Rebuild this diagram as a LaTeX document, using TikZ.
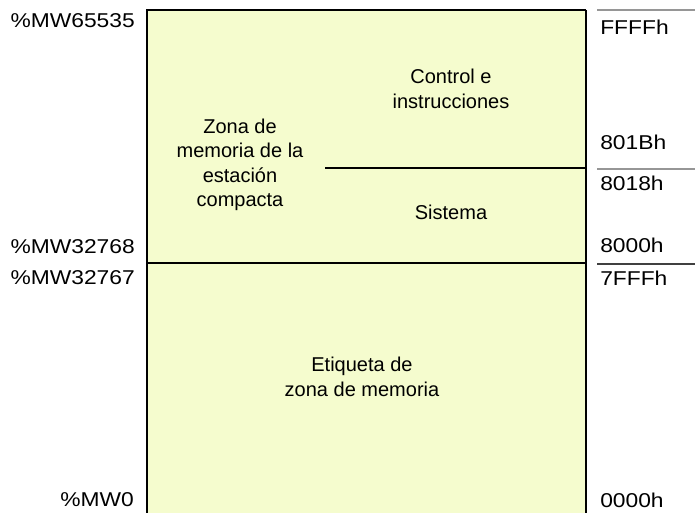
\documentclass[tikz,border=0pt]{standalone}
\usepackage{fontspec}
\setmainfont{Liberation Sans}
\newfontfamily\addrfont{Liberation Sans}[FakeStretch=1.14]
\usepackage{xcolor}
\usepackage{tikz}
\definecolor{zonafill}{RGB}{245,252,206}
\definecolor{regla}{RGB}{150,150,150}
\tikzset{
    etiq/.style={inner sep=0pt,font=\fontsize{15}{18.4}\selectfont},
    addr/.style={inner sep=0pt,font=\addrfont\fontsize{15}{18.4}\selectfont},
    hexlabel/.style={addr,anchor=west},
    mwlabel/.style={addr,anchor=east},
    zonatext/.style={etiq,align=center},
}

\begin{document}
\begin{tikzpicture}[x=0.75pt,y=-0.75pt]
        \useasboundingbox (0,0) rectangle (695,513);
        \clip (0,0) rectangle (695,513);
        \fill[zonafill] (147,10) rectangle (586,530);
        \draw[line width=2.2pt] (147,530)--(147,10)--(586,10);
        \draw[line width=1.7pt] (586,10)--(586,530);
        \draw[line width=2.2pt] (147,263)--(586,263);
        \draw[line width=1.6pt] (325,168)--(586,168);
        \draw[line width=0.9pt,draw=regla] (597,10)--(695,10);
        \draw[line width=0.9pt,draw=regla] (597,169)--(695,169);
        \draw[line width=0.9pt,draw=black!75] (597,264)--(695,264);
        % direcciones %MW
        \node[mwlabel] (mwtop) at (135,21){\%MW65535};
        \node[mwlabel] (mwsup) at (135,247){\%MW32768};
        \node[mwlabel] (mwinf) at (135,278){\%MW32767};
        \node[mwlabel] (mwcero) at (134,500){\%MW0};
        % direcciones hex
        \node[hexlabel] (hexfin) at (600,27){FFFFh};
        \node[hexlabel] (hexctl) at (600,142){801Bh};
        \node[hexlabel] (hexsis) at (600,183){8018h};
        \node[hexlabel] (hexini) at (600,245){8000h};
        \node[hexlabel] (hexsup) at (600,278){7FFFh};
        \node[hexlabel] (hexcero) at (600,500){0000h};
        % zonas
        \node[zonatext] (compacta) at (240,165){Zona de\\memoria de la\\estación\\compacta};
        \node[zonatext] (control) at (451,89){Control e\\instrucciones};
        \node[zonatext] (sistema) at (451,212){Sistema};
        \node[zonatext] (etiqueta) at (362,377){Etiqueta de\\zona de memoria};
    \end{tikzpicture}
\end{document}
